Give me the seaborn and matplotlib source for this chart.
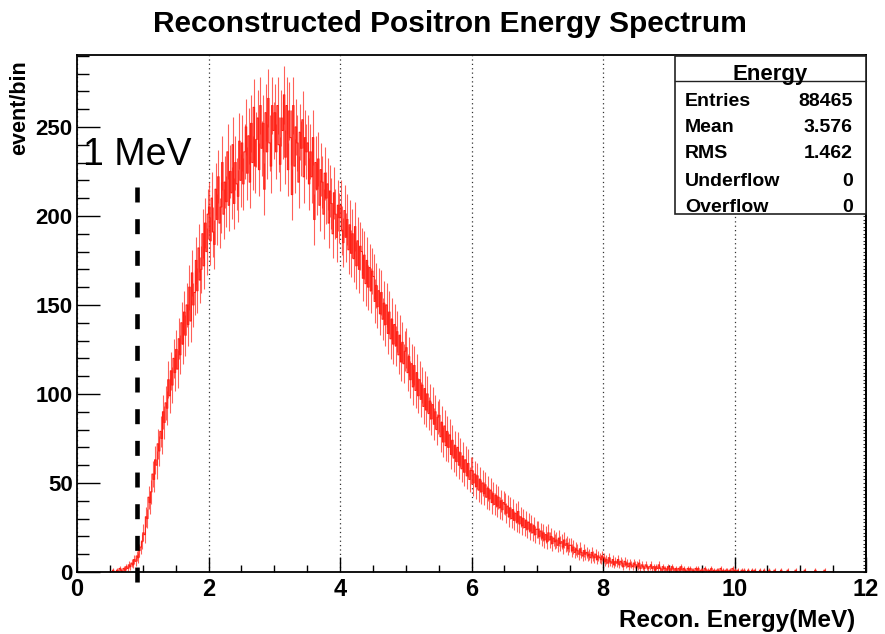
import numpy as np
import pandas as pd
import matplotlib
matplotlib.use("Agg")
import matplotlib.pyplot as plt
import seaborn as sns
from matplotlib.ticker import MultipleLocator, NullFormatter
from matplotlib.patches import Rectangle
from matplotlib.lines import Line2D

# ---------------- data ----------------
title = "Reconstructed Positron Energy Spectrum"
x_label = "Recon. Energy(MeV)"
y_label = "event/bin"
x_range = [0, 12]
y_range = [0, 290.4]

bin_width = 0.02      # MeV
first_edge = 0.5      # MeV, first non-empty region

# counts per 0.02 MeV bin, 0.5 -> 2.0 MeV
counts_rise = [
    0, 0, 1, 0, 0, 1, 0, 2, 1, 0, 2, 1, 3, 2, 4, 3, 5, 4, 7, 6, 9, 8, 12, 14, 17,
    22, 21, 31, 30, 42, 39, 45, 55, 52, 63, 60, 72, 68, 79, 75, 90, 84, 95, 92, 108, 99, 113, 105, 120, 112,
    125, 114, 131, 122, 140, 128, 146, 133, 150, 139, 160, 141, 168, 150, 157, 175, 158, 182, 164, 170, 190, 172, 196, 180, 201,
]
# 2.0 -> 4.0 MeV
counts_peak = [
    205, 186, 210, 191, 184, 215, 198, 222, 196, 205, 230, 201, 219, 208, 236, 206, 225, 213, 240, 207, 230, 218, 211, 242, 220,
    241, 218, 236, 250, 224, 245, 219, 252, 230, 261, 228, 243, 255, 226, 262, 238, 252, 215, 258, 236, 266, 241, 228, 262, 248,
    258, 236, 262, 240, 229, 255, 248, 268, 233, 262, 226, 259, 244, 212, 262, 228, 250, 241, 219, 247, 238, 254, 222, 244, 236,
    241, 218, 236, 222, 244, 198, 230, 215, 232, 206, 226, 219, 201, 224, 210, 218, 196, 214, 207, 190, 213, 201, 188, 206, 199,
]
# 4.0 -> 6.0 MeV
counts_fall = [
    206, 192, 185, 203, 188, 198, 181, 195, 179, 190, 176, 194, 172, 186, 170, 183, 180, 165, 178, 162, 175, 160, 171, 158, 169,
    166, 152, 161, 149, 158, 145, 157, 142, 151, 139, 150, 134, 146, 131, 142, 128, 139, 127, 135, 122, 133, 118, 129, 117, 124,
    126, 112, 121, 108, 117, 104, 116, 102, 112, 99, 108, 97, 105, 93, 103, 91, 100, 89, 96, 86, 94, 83, 90, 80, 87,
    88, 76, 84, 73, 82, 71, 79, 70, 77, 66, 74, 64, 71, 62, 70, 60, 67, 58, 65, 56, 63, 54, 61, 52, 57,
]
# 6.0 -> 11.5 MeV
counts_tail = [
    57, 50, 55, 48, 54, 46, 52, 45, 50, 44, 49, 42, 47, 41, 46, 39, 44, 38, 43, 37, 42, 36, 40, 35, 39,
    38, 33, 37, 31, 36, 30, 35, 29, 33, 28, 34, 27, 31, 26, 30, 25, 29, 24, 28, 23, 27, 22, 26, 21, 24,
    24, 20, 23, 19, 22, 18, 21, 17, 22, 18, 20, 16, 19, 17, 18, 15, 19, 16, 17, 14, 18, 15, 16, 13, 15,
    15, 12, 14, 11, 13, 12, 10, 13, 11, 9, 12, 10, 11, 9, 10, 8, 11, 9, 8, 10, 7, 9, 8, 7, 9,
    8, 6, 7, 5, 8, 6, 5, 7, 4, 6, 5, 7, 4, 6, 5, 3, 6, 4, 5, 3, 5, 4, 3, 5, 4,
    4, 3, 5, 2, 4, 3, 2, 4, 3, 2, 3, 4, 2, 3, 1, 3, 2, 4, 2, 1, 3, 2, 2, 1, 3,
    2, 1, 3, 2, 1, 2, 0, 2, 1, 3, 1, 2, 1, 0, 2, 1, 2, 1, 1, 0, 2, 1, 2, 0, 1,
    1, 0, 2, 1, 1, 0, 1, 2, 0, 1, 0, 1, 1, 0, 2, 0, 1, 0, 1, 1, 0, 1, 0, 2, 0,
    1, 0, 1, 0, 0, 1, 0, 1, 0, 0, 1, 0, 0, 1, 0, 1, 0, 0, 0, 1, 0, 0, 1, 0, 0,
    0, 1, 0, 0, 0, 1, 0, 0, 0, 0, 1, 0, 0, 0, 0, 1, 0, 0, 0, 0, 0, 1, 0, 0, 0,
    0, 0, 0, 1, 0, 0, 0, 0, 0, 0, 0, 1, 0, 0, 0, 0, 0, 0, 1, 0, 0, 0, 0, 0, 0,
]

stats_title = "Energy"
stats_names = ["Entries", "Mean", "RMS", "Underflow", "Overflow"]
stats_values = ["88465", "3.576", "1.462", "0", "0"]

threshold_energy = 0.91
threshold_label = "1 MeV"

# ---------------- figure ----------------
sns.set_theme(style="white")
plt.rcParams["font.family"] = ["Liberation Sans", "DejaVu Sans"]
plt.rcParams["text.color"] = "black"
plt.rcParams["axes.labelcolor"] = "black"
plt.rcParams["xtick.color"] = "black"
plt.rcParams["ytick.color"] = "black"

counts = np.array(counts_rise + counts_peak + counts_fall + counts_tail, dtype=float)
edges = first_edge + bin_width * np.arange(len(counts) + 1)
centers = 0.5 * (edges[:-1] + edges[1:])
df = pd.DataFrame({"energy": centers, "count": counts})

W, H = 885, 634
fig = plt.figure(figsize=(W / 100, H / 100), dpi=100)
fig.patch.set_facecolor("white")
ax_l, ax_r, ax_t, ax_b = 77, 866, 55, 572
ax = fig.add_axes([ax_l / W, 1 - ax_b / H, (ax_r - ax_l) / W, (ax_b - ax_t) / H])
ax.set_facecolor("white")

red = "#ff2015"
ax.errorbar(df["energy"], df["count"], yerr=np.sqrt(df["count"]), fmt="none",
            ecolor="#ff3a30", elinewidth=0.8, capsize=0, alpha=0.8)
sns.histplot(data=df, x="energy", weights="count", bins=[float(e) for e in edges],
             element="step", fill=False, color=red, linewidth=0.8, ax=ax)

ax.set_xlim(*x_range)
ax.set_ylim(*y_range)
ax.set_xlabel("")
ax.set_ylabel("")

ax.xaxis.set_major_locator(MultipleLocator(2))
ax.xaxis.set_minor_locator(MultipleLocator(0.5))
ax.yaxis.set_major_locator(MultipleLocator(50))
ax.yaxis.set_minor_locator(MultipleLocator(10))

ax.grid(False)
ax.grid(axis="x", which="major", linestyle=(0, (1, 2.5)), color="#333333", linewidth=0.9)

for s in ax.spines.values():
    s.set_visible(True)
    s.set_color("black")
    s.set_linewidth(1.3)

ax.tick_params(axis="both", which="both", direction="in", colors="black",
               top=False, right=False, bottom=True, left=True)
ax.tick_params(axis="x", which="major", length=10.5, width=1.0, pad=4, labelsize=17)
ax.tick_params(axis="x", which="minor", length=5, width=1.0)
ax.tick_params(axis="y", which="major", length=16.5, width=1.0, pad=3, labelsize=16)
ax.tick_params(axis="y", which="minor", length=8.5, width=1.0)
for lab in ax.get_xticklabels() + ax.get_yticklabels():
    lab.set_fontweight("bold")
    lab.set_color("black")

# dense right-hand ticks (ROOT style)
sec = ax.secondary_yaxis("right")
sec.yaxis.set_major_locator(MultipleLocator(2))
sec.yaxis.set_major_formatter(NullFormatter())
sec.tick_params(direction="in", length=2.2, width=0.8, colors="#333333")
sec.spines["right"].set_color("black")
sec.spines["right"].set_linewidth(1.3)

# threshold line
ytop = (ax_b - 187) / 1.78
ybot = (ax_b - 586) / 1.78
ax.plot([threshold_energy, threshold_energy], [ytop, ybot], color="black", lw=3.3,
        linestyle=(0, (3.27, 3.64)), clip_on=False, solid_capstyle="butt",
        dash_capstyle="butt", zorder=5)
ax.text(0.09, (ax_b - 165) / 1.78, threshold_label, fontsize=27, color="black",
        ha="left", va="baseline", zorder=6)

# titles
fig.text(450 / W, 1 - 24 / H, title, ha="center", va="center",
         fontsize=21.5, fontweight="bold", color="black")
fig.text(855 / W, 1 - 620 / H, x_label, ha="right", va="center",
         fontsize=17.5, fontweight="bold", color="black")
fig.text(20 / W, 1 - 60 / H, y_label, ha="center", va="top", rotation=90,
         fontsize=15.5, fontweight="bold", color="black")

# stats box
bx0, bx1, by0, by1 = 675, 866, 56, 214
box = Rectangle((bx0 / W, 1 - by1 / H), (bx1 - bx0) / W, (by1 - by0) / H,
                transform=fig.transFigure, facecolor="white", edgecolor="#222222",
                linewidth=1.2, zorder=10)
fig.patches.append(box)
fig.lines.append(Line2D([bx0 / W, bx1 / W], [1 - 81 / H, 1 - 81 / H],
                        transform=fig.transFigure, color="#222222", lw=1.0, zorder=11))
fig.text((bx0 + bx1) / 2 / W, 1 - 80 / H, stats_title, ha="center", va="baseline",
         fontsize=16, fontweight="bold", color="black", zorder=12)
row_y = [102, 128, 154, 181, 207]
for name, val, yy in zip(stats_names, stats_values, row_y):
    fig.text(685 / W, 1 - yy / H, name, ha="left", va="center",
             fontsize=14, fontweight="bold", color="black", zorder=12)
    fig.text(853 / W, 1 - yy / H, val, ha="right", va="center",
             fontsize=14, fontweight="bold", color="black", zorder=12)

fig.savefig("out.png", dpi=100, facecolor="white")
